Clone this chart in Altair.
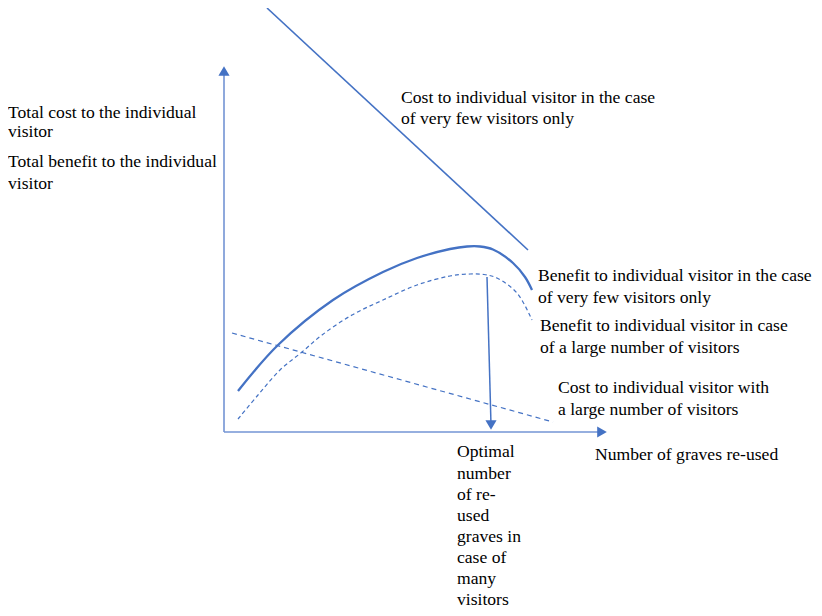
import altair as alt
import pandas as pd

# Coordinate system: origin at the corner of the two axes (arbitrary units)
axis_x_end = 378
axis_y_end = 361

steep_cost_x = [43, 304]
steep_cost_y = [424, 182]

benefit_few_x = [14, 54, 109, 159, 193, 226, 243, 256, 269, 289, 301, 308]
benefit_few_y = [41, 87, 132, 160, 174, 183, 185.5, 185.5, 182.5, 169, 155, 142]

benefit_many_x = [14, 34, 56, 78, 98, 128, 159, 193, 226, 246, 260, 273, 293, 308]
benefit_many_y = [13, 37, 62, 80, 97, 117, 132, 147, 156, 158, 157.5, 154, 139, 112]

cost_many_x = [8, 329]
cost_many_y = [99, 10]

optimal_x = [263, 267]
optimal_y = [155, 7]

head_x = [0, axis_x_end, 267]
head_y = [axis_y_end, 0, 7]
head_shape = ["triangle-up", "triangle-right", "triangle-down"]

label_text = [
    "Total cost to the individual", "visitor",
    "Total benefit to the individual", "visitor",
    "Cost to individual visitor in the case", "of very few visitors only",
    "Benefit to individual visitor in the case", "of very few visitors only",
    "Benefit to individual visitor in case", "of a large number of visitors",
    "Cost to individual visitor with", "a large number of visitors",
    "Number of graves re-used",
    "Optimal", "number", "of re-", "used", "graves in", "case of", "many", "visitors",
]
label_x = [-216, -216, -216, -216, 177, 177, 314, 314, 316, 316, 334, 334, 371,
           233, 233, 233, 233, 233, 233, 233, 233]
label_y = [319, 300, 270, 248, 334, 313, 156, 134, 106, 84, 44, 22, -23,
           -20, -42, -63, -84, -105, -126, -147, -168]

BLUE = "#4472C4"
SERIF = "Times New Roman, Liberation Serif, DejaVu Serif, serif"
xs = alt.Scale(domain=[-216, 590], nice=False, zero=False)
ys = alt.Scale(domain=[-176, 424], nice=False, zero=False)


def line_df(xv, yv, name):
    return pd.DataFrame({"x": xv, "y": yv, "i": range(len(xv)), "s": name})


axes_df = pd.concat([
    line_df([0, 0], [0, axis_y_end], "yaxis"),
    line_df([0, axis_x_end], [0, 0], "xaxis"),
])


def enc(chart):
    return chart.encode(
        x=alt.X("x:Q", scale=xs, axis=None),
        y=alt.Y("y:Q", scale=ys, axis=None),
        order="i:Q",
    )


axes = enc(alt.Chart(axes_df).mark_line(color="#7394d4", strokeWidth=1.6)).encode(detail="s:N")
steep = enc(alt.Chart(line_df(steep_cost_x, steep_cost_y, "a")).mark_line(color=BLUE, strokeWidth=1.6))
ben_few = enc(alt.Chart(line_df(benefit_few_x, benefit_few_y, "b")).mark_line(
    color=BLUE, strokeWidth=2.3, interpolate="catmull-rom"))
ben_many = enc(alt.Chart(line_df(benefit_many_x, benefit_many_y, "c")).mark_line(
    color=BLUE, strokeWidth=1.2, strokeDash=[4, 3], interpolate="catmull-rom"))
cost_many = enc(alt.Chart(line_df(cost_many_x, cost_many_y, "d")).mark_line(
    color=BLUE, strokeWidth=1.2, strokeDash=[5, 4]))
optimal = enc(alt.Chart(line_df(optimal_x, optimal_y, "e")).mark_line(color=BLUE, strokeWidth=1.5))

heads = alt.Chart(pd.DataFrame({"x": head_x, "y": head_y, "shape": head_shape})).mark_point(
    filled=True, color=BLUE, opacity=1, size=125
).encode(
    x=alt.X("x:Q", scale=xs, axis=None),
    y=alt.Y("y:Q", scale=ys, axis=None),
    shape=alt.Shape("shape:N", scale=None, legend=None),
)

labels = alt.Chart(pd.DataFrame({"x": label_x, "y": label_y, "t": label_text})).mark_text(
    align="left", baseline="middle", font=SERIF, fontSize=17.6, color="black"
).encode(
    x=alt.X("x:Q", scale=xs, axis=None),
    y=alt.Y("y:Q", scale=ys, axis=None),
    text="t:N",
)

chart = alt.layer(axes, steep, ben_few, ben_many, cost_many, optimal, heads, labels).properties(
    width=806, height=600, padding=0, autosize=alt.AutoSizeParams(type="none")
).configure_view(stroke=None)

chart.save("out.html", embed_options={"renderer": "svg", "actions": False})
